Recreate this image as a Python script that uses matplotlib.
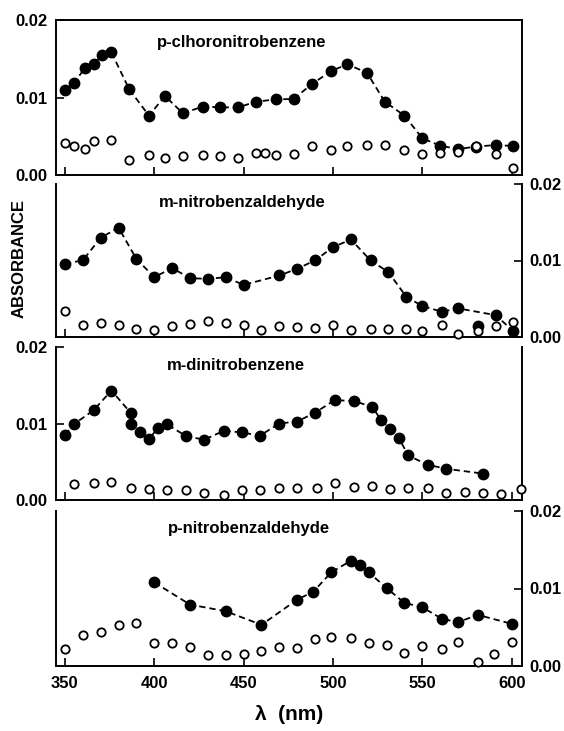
import matplotlib.pyplot as plt

plt.rcParams['font.family'] = ['Liberation Sans', 'DejaVu Sans']
plt.rcParams['font.weight'] = 'bold'

# wavelengths (nm) and absorbance
names = ['p-clhoronitrobenzene', 'm-nitrobenzaldehyde', 'm-dinitrobenzene', 'p-nitrobenzaldehyde']

pcnb_fx = [350, 355, 361, 366, 371, 376, 386, 397, 406, 416, 427, 437, 447, 457, 468, 478,
           488, 499, 508, 519, 529, 540, 550, 560, 570, 580, 591, 601]
pcnb_fy = [.01097, .01183, .01376, .01432, .01548, .01583, .01105, .00766, .01019, .00796,
           .00882, .00873, .00873, .00946, .00976, .00981, .0117, .01342, .01428, .0132,
           .00946, .00766, .00473, .00378, .00335, .00366, .00387, .00374]
pcnb_ox = [350, 355, 361, 366, 376, 386, 397, 406, 416, 427, 437, 447, 457, 462, 468, 478,
           488, 499, 508, 519, 529, 540, 550, 560, 570, 580, 591, 601]
pcnb_oy = [.0041, .0038, .0033, .0044, .0045, .0020, .0026, .0022, .0025, .0026, .0024, .0022,
           .0028, .0029, .0026, .0027, .0037, .0032, .0037, .0039, .0039, .0032, .0027, .0029,
           .0030, .0037, .0027, .0009]

mnba_fx = [350, 360, 370, 380, 390, 400, 410, 420, 430, 440, 450, 470, 480, 490, 500, 510,
           521, 531, 541, 550, 561, 570, 581, 591, 601]
mnba_fy = [.00958, .01002, .01297, .01429, .0102, .00782, .00901, .00769, .0076, .00782,
           .00681, .00804, .00892, .01002, .01174, .01275, .01002, .00848, .00527, .00404,
           .0033, .00374, .00141, .00286, .00075]
mnba_ox = [350, 360, 370, 380, 390, 400, 410, 420, 430, 440, 450, 460, 470, 480, 490, 500,
           510, 521, 531, 541, 550, 561, 570, 581, 591, 601]
mnba_oy = [.00343, .00163, .00189, .00163, .0011, .00097, .00141, .00176, .00211, .00189,
           .00154, .00097, .00141, .00132, .00119, .00154, .00097, .0011, .0011, .0011,
           .00075, .00154, .00044, .00075, .00141, .00198]

mdnb_fx = [350, 355, 366, 376, 387, 387, 392, 397, 402, 407, 418, 428, 439, 449, 459, 470,
           480, 490, 501, 512, 522, 527, 532, 537, 542, 553, 563, 584]
mdnb_fy = [.00849, .00991, .01172, .01431, .01134, .00991, .00884, .00797, .0094, .00991,
           .00832, .00789, .00905, .00884, .0084, .01, .01026, .01142, .01306, .01293,
           .01216, .01043, .00927, .0081, .00582, .00461, .00409, .00345]
mdnb_ox = [355, 366, 376, 387, 397, 407, 418, 428, 439, 449, 459, 470, 480, 491, 501, 512,
           522, 532, 542, 553, 563, 574, 584, 594, 605]
mdnb_oy = [.00203, .00228, .00237, .00151, .00138, .00129, .00129, .00086, .00065, .00129,
           .00129, .00151, .00151, .00151, .00216, .00172, .00181, .00138, .00151, .00151,
           .00095, .00108, .00086, .00078, .00138]

pnba_fx = [400, 420, 440, 460, 480, 489, 499, 510, 515, 520, 530, 540, 550, 561, 570, 581, 600]
pnba_fy = [.01079, .00792, .00707, .00531, .00857, .00959, .01208, .01358, .01306, .01208,
           .01006, .00814, .00758, .00608, .00565, .0066, .00544]
pnba_ox = [350, 360, 370, 380, 390, 400, 410, 420, 430, 440, 450, 460, 470, 480, 490, 499,
           510, 520, 530, 540, 550, 561, 570, 581, 590, 600]
pnba_oy = [.00214, .00394, .00437, .00531, .00552, .00296, .00296, .00244, .00146, .00146,
           .00158, .00188, .00244, .00236, .00343, .00373, .00364, .00296, .00266, .00167,
           .00257, .00214, .00308, .00051, .00158, .00308]

filled = [(pcnb_fx, pcnb_fy), (mnba_fx, mnba_fy), (mdnb_fx, mdnb_fy), (pnba_fx, pnba_fy)]
hollow = [(pcnb_ox, pcnb_oy), (mnba_ox, mnba_oy), (mdnb_ox, mdnb_oy), (pnba_ox, pnba_oy)]
# filled points that sit off the dashed curve
off_curve = {1: [581]}

xticks = [350, 400, 450, 500, 550, 600]
yticks = [0.0, 0.01, 0.02]

W, H = 564, 731
fig = plt.figure(figsize=(W / 100, H / 100), dpi=100)

# panel boxes in pixels: (top, bottom)
boxes = [(20, 175), (184, 337), (347, 500), (511, 666)]
left_px, right_px = 56, 521.5
title_pos = [(0.217, 0.858), (0.221, 0.876), (0.238, 0.882), (0.241, 0.885)]

for i in range(4):
    top, bot = boxes[i]
    ax = fig.add_axes([left_px / W, 1 - bot / H, (right_px - left_px) / W, (bot - top) / H])

    fx, fy = filled[i]
    skip = off_curve.get(i, [])
    cx = [x for x in fx if x not in skip]
    cy = [y for x, y in zip(fx, fy) if x not in skip]
    ax.plot(cx, cy, color='black', lw=1.3, ls=(0, (3.5, 2.2)), zorder=2)
    ax.plot(fx, fy, 'o', color='black', ms=7.5, zorder=3, clip_on=False)
    ox, oy = hollow[i]
    ax.plot(ox, oy, 'o', mfc='white', mec='black', mew=1.3, ms=6, zorder=3, clip_on=False)

    ax.set_xlim(345, 605.5)
    ax.set_ylim(0, 0.02)
    ax.set_xticks(xticks)
    ax.set_yticks(yticks)
    ax.yaxis.set_major_formatter(plt.FormatStrFormatter('%.2f'))

    side = 'left' if i % 2 == 0 else 'right'
    ax.tick_params(direction='in', length=6, width=1.2, labelsize=12)
    ax.tick_params(axis='x', top=False, labelbottom=(i == 3), pad=7)
    ax.tick_params(axis='y', left=(side == 'left'), right=(side == 'right'),
                   labelleft=(side == 'left'), labelright=(side == 'right'), pad=6)
    for s in ax.spines.values():
        s.set_linewidth(1.4)
    if i > 0:
        ax.spines['top'].set_visible(False)

    tx, ty = title_pos[i]
    ax.text(tx, ty, names[i], transform=ax.transAxes, fontsize=12, ha='left', va='center')

fig.text(19 / W, 1 - 258 / H, 'ABSORBANCE', rotation=90, ha='center', va='center', fontsize=12)
fig.text(289 / W, 1 - 714 / H, 'λ  (nm)', ha='center', va='center', fontsize=15)

fig.savefig('out.png', dpi=100)
